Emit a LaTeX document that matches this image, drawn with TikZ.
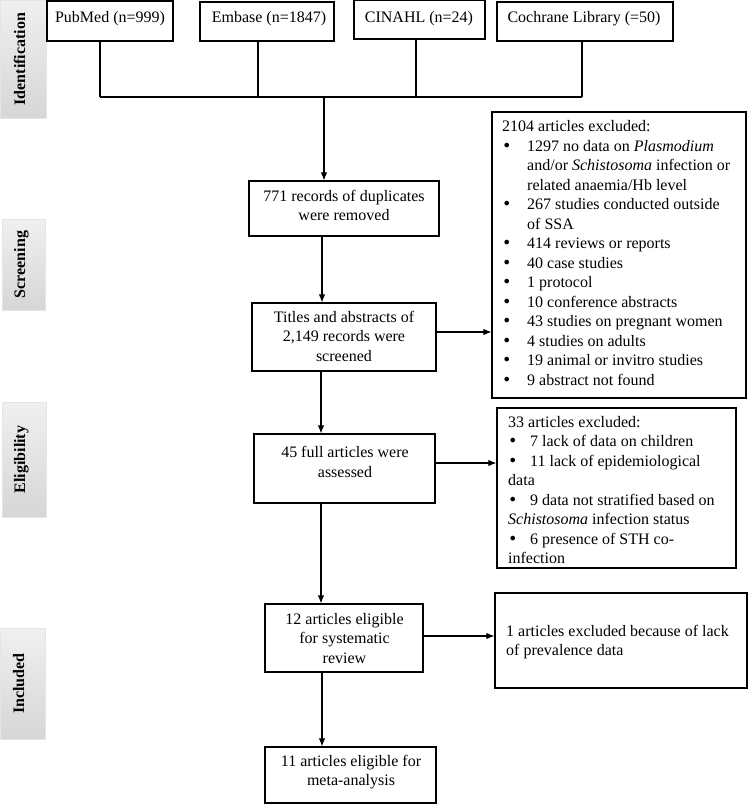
\documentclass[tikz,border=0pt]{standalone}
\usepackage{fontspec}
\setmainfont{Liberation Serif}
\newfontfamily\bulfont{DejaVu Sans}
\usetikzlibrary{arrows.meta}
\newcommand{\bigbul}{{\bulfont\char"2022}}
\begin{document}
\begin{tikzpicture}[x=1pt,y=-1pt,
  box/.style={draw, line width=1.2pt, rectangle, inner sep=0},
  flow/.style={line width=1.1pt, -{Latex[length=8pt,width=6.5pt]}},
  conn/.style={line width=1.1pt},
  txt/.style={inner sep=0, anchor=base, font=\fontsize{16}{19.5}\selectfont},
  ltxt/.style={inner sep=0, anchor=base west, font=\fontsize{16}{19.5}\selectfont},
  side/.style={inner sep=0, top color=gray!12, bottom color=gray!32, draw=gray!20},
  sidetxt/.style={inner sep=0, anchor=base, rotate=90, font=\fontsize{16}{19.5}\selectfont\bfseries}]
\useasboundingbox (0,0) rectangle (749,804);

% side labels
\node[side, minimum width=46, minimum height=118] (s1) at (23,59) {};
\node[sidetxt] (s1t) at (25,59) {Identification};
\node[side, minimum width=43, minimum height=91] (s2) at (23.5,264.5) {};
\node[sidetxt] (s2t) at (25,264.5) {Screening};
\node[side, minimum width=44, minimum height=115] (s3) at (24,459.5) {};
\node[sidetxt] (s3t) at (25,459.5) {Eligibility};
\node[side, minimum width=45, minimum height=111] (s4) at (22.5,683.5) {};
\node[sidetxt] (s4t) at (24,683.5) {Included};

% sources
\node[box, minimum width=126, minimum height=40] (pub) at (110,21) {};
\node[txt] (tpub) at (110,22) {PubMed (n=999)};
\node[box, minimum width=134, minimum height=39] (emb) at (267,21.5) {};
\node[txt] (temb) at (269,22) {Embase (n=1847)};
\node[box, minimum width=131, minimum height=39] (cin) at (419.5,19.5) {};
\node[txt] (tcin) at (419,22) {CINAHL (n=24)};
\node[box, minimum width=176, minimum height=39] (coc) at (585,21.5) {};
\node[txt] (tcoc) at (584,22) {Cochrane Library (=50)};

% main column
\node[box, minimum width=190, minimum height=55] (dup) at (344,208.5) {};
\node[txt] (tdup) at (344,201) {\parbox[t]{185pt}{\centering 771 records of duplicates\\were removed}};
\node[box, minimum width=184, minimum height=68] (tit) at (344,337) {};
\node[txt] (ttit) at (344,322) {\parbox[t]{180pt}{\centering Titles and abstracts of\\2,149 records were\\screened}};
\node[box, minimum width=181, minimum height=69] (full) at (344.5,468.5) {};
\node[txt] (tfull) at (345,457.5) {\parbox[t]{178pt}{\centering 45 full articles were\\assessed}};
\node[box, minimum width=158, minimum height=68] (elig) at (344,638) {};
\node[txt] (telig) at (344.5,624) {\parbox[t]{155pt}{\centering 12 articles eligible\\for systematic\\review}};
\node[box, minimum width=171, minimum height=56] (meta) at (350.5,775) {};
\node[txt] (tmeta) at (351,766) {\parbox[t]{168pt}{\centering 11 articles eligible for\\meta-analysis}};

% exclusion boxes
\node[box, minimum width=254, minimum height=286] (ex1) at (619,255) {};
\node[ltxt] (tex1) at (502,131.5) {\parbox[t]{240pt}{\raggedright
2104 articles excluded:\\
\makebox[25pt][l]{\bigbul}1297 no data on \textit{Plasmodium}\\
\hspace*{25pt}and/or \textit{Schistosoma} infection or\\
\hspace*{25pt}related anaemia/Hb level\\
\makebox[25pt][l]{\bigbul}267 studies conducted outside\\
\hspace*{25pt}of SSA\\
\makebox[25pt][l]{\bigbul}414 reviews or reports\\
\makebox[25pt][l]{\bigbul}40 case studies\\
\makebox[25pt][l]{\bigbul}1 protocol\\
\makebox[25pt][l]{\bigbul}10 conference abstracts\\
\makebox[25pt][l]{\bigbul}43 studies on pregnant women\\
\makebox[25pt][l]{\bigbul}4 studies on adults\\
\makebox[25pt][l]{\bigbul}19 animal or invitro studies\\
\makebox[25pt][l]{\bigbul}9 abstract not found}};

\node[box, minimum width=239, minimum height=160] (ex2) at (616.5,488) {};
\node[ltxt] (tex2) at (508,427) {\parbox[t]{225pt}{\raggedright
33 articles excluded:\\
\makebox[22pt][l]{\bigbul}7 lack of data on children\\
\makebox[22pt][l]{\bigbul}11 lack of epidemiological\\
data\\
\makebox[22pt][l]{\bigbul}9 data not stratified based on\\
\textit{Schistosoma} infection status\\
\makebox[22pt][l]{\bigbul}6 presence of STH co-\\
infection}};

\node[box, minimum width=252, minimum height=95] (ex3) at (621,640.5) {};
\node[ltxt] (tex3) at (506,636) {\parbox[t]{238pt}{\raggedright
1 articles excluded because of lack\\of prevalence data}};

% connectors
\coordinate (j1) at (100,97);
\coordinate (j2) at (258,97);
\coordinate (j3) at (416,97);
\coordinate (j4) at (582,97);
\coordinate (jm) at (324,97);
\draw[conn] (pub.south -| j1) -- (j1);
\draw[conn] (emb.south -| j2) -- (j2);
\draw[conn] (cin.south -| j3) -- (j3);
\draw[conn] (coc.south -| j4) -- (j4);
\draw[conn] (j1) -- (j4);
\draw[flow] (jm) -- (jm |- dup.north);
\draw[flow] (dup.south -| 322,0) -- (tit.north -| 322,0);
\draw[flow] (tit.east |- 0,332) -- (ex1.west |- 0,332);
\draw[flow] (tit.south -| 321,0) -- (full.north -| 321,0);
\draw[flow] (full.east |- 0,463) -- (ex2.west |- 0,463);
\draw[flow] (full.south -| 321,0) -- (elig.north -| 321,0);
\draw[flow] (elig.east |- 0,636) -- (ex3.west |- 0,636);
\draw[flow] (elig.south -| 322,0) -- (meta.north -| 322,0);
\end{tikzpicture}
\end{document}
